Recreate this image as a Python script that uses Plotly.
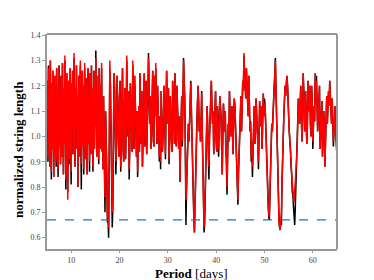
import plotly.graph_objects as go

# ---------------- data ----------------
periods_a = [5.0,5.1,5.2,5.3,5.4,5.5,5.6,5.7,5.8,5.9,
             6.0,6.1,6.2,6.3,6.4,6.5,6.6,6.7,6.8,6.9,
             7.0,7.1,7.2,7.3,7.4,7.5,7.6,7.7,7.8,7.9,
             8.0,8.1,8.2,8.3,8.4,8.5,8.6,8.7,8.8,8.9,
             9.0,9.1,9.2,9.3,9.4,9.5,9.6,9.7,9.8,9.9,
             10.0,10.1,10.2,10.3,10.4,10.5,10.6,10.7,10.8,10.9,
             11.0,11.1,11.2,11.3,11.4,11.5,11.6,11.7,11.8,11.9,
             12.0,12.1,12.2,12.3,12.4,12.5,12.6,12.7,12.8,12.9,
             13.0,13.1,13.2,13.3,13.4,13.5,13.6,13.7,13.8,13.9,
             14.0,14.1,14.2,14.3,14.4,14.5,14.6,14.7,14.8,14.9,
             15.0,15.1,15.2,15.3,15.4,15.5,15.6,15.7,15.8,15.9,
             16.0,16.1,16.2,16.3,16.4,16.5,16.6,16.7,16.8,16.9,
             17.0]

periods_b_mid = [17.125,17.375,17.625,17.875,18.125,18.375,18.625,18.875,19.125,19.375,
                 19.625,19.875,20.125,20.375,20.625,20.875,21.125,21.375,21.625,21.875,
                 22.125,22.375,22.625,22.875,23.125,23.375,23.625,23.875,24.125,24.375,
                 24.625,24.875,25.125,25.375,25.625,25.875,26.125,26.375,26.625,26.875,
                 27.125,27.375,27.625,27.875,28.125,28.375,28.625,28.875,29.125,29.375,
                 29.625,29.875,30.125,30.375,30.625,30.875,31.125,31.375,31.625,31.875,
                 32.125,32.375,32.625,32.875,33.125,33.375,33.625,33.875,34.125,34.375,
                 34.625,34.875,35.125,35.375,35.625,35.875,36.125,36.375,36.625,36.875,
                 37.125,37.375,37.625,37.875,38.125,38.375,38.625,38.875,39.125,39.375,
                 39.625,39.875,40.125,40.375,40.625,40.875,41.125,41.375,41.625,41.875,
                 42.125,42.375,42.625,42.875,43.125,43.375,43.625,43.875,44.125,44.375,
                 44.625,44.875,45.125,45.375,45.625,45.875,46.125,46.375,46.625,46.875,
                 47.125,47.375,47.625,47.875,48.125,48.375,48.625,48.875,49.125,49.375,
                 49.625,49.875,50.125,50.375,50.625,50.875,51.125,51.375,51.625,51.875,
                 52.125,52.375,52.625,52.875,53.125,53.375,53.625,53.875,54.125,54.375,
                 54.625,54.875,55.125,55.375,55.625,55.875,56.125,56.375,56.625,56.875,
                 57.125,57.375,57.625,57.875,58.125,58.375,58.625,58.875,59.125,59.375,
                 59.625,59.875,60.125,60.375,60.625,60.875,61.125,61.375,61.625,61.875,
                 62.125,62.375,62.625,62.875,63.125,63.375,63.625,63.875,64.125,64.375,
                 64.625,64.875]

periods_b = [17.25,17.5,17.75,18.0,18.25,18.5,18.75,19.0,19.25,19.5,
             19.75,20.0,20.25,20.5,20.75,21.0,21.25,21.5,21.75,22.0,
             22.25,22.5,22.75,23.0,23.25,23.5,23.75,24.0,24.25,24.5,
             24.75,25.0,25.25,25.5,25.75,26.0,26.25,26.5,26.75,27.0,
             27.25,27.5,27.75,28.0,28.25,28.5,28.75,29.0,29.25,29.5,
             29.75,30.0,30.25,30.5,30.75,31.0,31.25,31.5,31.75,32.0,
             32.25,32.5,32.75,33.0,33.25,33.5,33.75,34.0,34.25,34.5,
             34.75,35.0,35.25,35.5,35.75,36.0,36.25,36.5,36.75,37.0,
             37.25,37.5,37.75,38.0,38.25,38.5,38.75,39.0,39.25,39.5,
             39.75,40.0,40.25,40.5,40.75,41.0,41.25,41.5,41.75,42.0,
             42.25,42.5,42.75,43.0,43.25,43.5,43.75,44.0,44.25,44.5,
             44.75,45.0,45.25,45.5,45.75,46.0,46.25,46.5,46.75,47.0,
             47.25,47.5,47.75,48.0,48.25,48.5,48.75,49.0,49.25,49.5,
             49.75,50.0,50.25,50.5,50.75,51.0,51.25,51.5,51.75,52.0,
             52.25,52.5,52.75,53.0,53.25,53.5,53.75,54.0,54.25,54.5,
             54.75,55.0,55.25,55.5,55.75,56.0,56.25,56.5,56.75,57.0,
             57.25,57.5,57.75,58.0,58.25,58.5,58.75,59.0,59.25,59.5,
             59.75,60.0,60.25,60.5,60.75,61.0,61.25,61.5,61.75,62.0,
             62.25,62.5,62.75,63.0,63.25,63.5,63.75,64.0,64.25,64.5,
             64.75,65.0]

black_a = [1.05,1.22,0.90,1.28,0.98,1.18,0.88,1.30,1.02,0.83,
           1.21,0.95,1.26,1.08,0.84,1.15,1.24,0.93,1.12,0.88,
           1.27,1.00,1.20,0.84,1.10,1.28,0.96,1.16,0.89,1.24,
           1.04,0.92,1.29,1.06,0.85,1.19,0.97,1.30,1.01,0.79,
           1.14,1.25,0.94,0.78,1.08,1.22,0.89,1.17,1.27,0.99,
           0.81,1.21,1.03,1.26,0.93,1.12,1.31,0.98,0.88,1.19,
           1.07,1.28,0.95,1.15,0.80,1.10,1.24,0.92,1.18,1.28,
           1.00,0.79,1.13,1.26,0.96,1.20,0.85,1.09,1.27,1.02,
           0.91,1.23,1.05,0.85,1.17,1.27,0.97,1.11,0.86,1.25,
           1.06,0.93,1.28,1.00,1.19,0.86,1.14,1.26,0.95,1.22,
           1.04,1.34,1.12,0.92,1.18,1.00,1.24,0.89,1.27,1.05,
           0.95,1.20,1.08,1.27,0.94,1.13,0.87,1.16,0.98,0.80,
           0.70]

red_a = [1.05,1.22,0.92,1.27,0.98,1.18,0.88,1.30,1.02,0.86,
         1.21,0.95,1.26,1.08,0.84,1.15,1.24,0.93,1.12,0.90,
         1.27,1.00,1.20,0.87,1.10,1.28,0.96,1.16,0.89,1.24,
         1.04,0.92,1.29,1.06,0.85,1.19,0.97,1.32,1.01,0.83,
         1.14,1.25,0.94,0.75,1.08,1.22,0.91,1.17,1.27,0.99,
         0.86,1.21,1.03,1.26,0.93,1.12,1.33,0.98,0.88,1.19,
         1.07,1.28,0.95,1.15,0.80,1.10,1.24,0.92,1.18,1.30,
         1.00,0.89,1.13,1.26,0.96,1.20,0.87,1.09,1.29,1.02,
         0.91,1.23,1.05,0.85,1.17,1.27,0.97,1.11,0.90,1.25,
         1.06,0.93,1.28,1.00,1.19,0.88,1.14,1.26,0.95,1.22,
         1.04,1.31,1.12,0.92,1.18,1.00,1.24,0.91,1.27,1.05,
         0.95,1.20,1.08,1.29,0.94,1.13,0.87,1.16,0.98,0.84,
         0.76]

black_b_mid = [1.10,0.85,0.68,0.95,1.20,0.82,0.72,1.25,1.05,0.97,
               1.12,0.92,1.22,0.99,1.27,0.90,1.19,1.02,1.14,1.18,
               0.96,1.12,0.94,1.15,1.24,1.06,1.10,0.98,0.94,1.10,
               1.18,1.00,1.25,1.08,0.93,1.15,1.20,1.16,1.02,1.26,
               0.96,1.08,1.14,1.20,1.04,1.08,1.18,0.94,1.12,1.07,
               1.10,1.14,1.19,0.98,1.06,0.94,1.15,0.97,1.10,1.20,
               1.03,1.08,0.95,1.16,1.08,1.22,0.95,0.80,1.00,0.98,
               1.15,1.10,0.88,0.68,0.70,0.95,1.12,1.14,1.08,1.05,
               1.02,0.72,0.66,0.90,1.12,0.95,1.00,1.16,1.12,1.10,
               1.02,1.18,0.94,1.06,1.00,1.12,0.98,1.00,1.08,1.10,
               0.96,0.94,0.98,1.10,1.06,1.02,1.08,1.12,1.00,0.84,
               0.86,1.05,1.16,1.10,1.18,1.25,1.15,1.20,1.08,1.15,
               1.06,0.98,0.94,1.12,1.02,1.10,0.98,1.02,1.04,1.12,
               1.03,1.08,1.12,0.96,0.80,0.68,0.78,0.96,1.02,1.14,
               1.24,1.18,0.92,0.72,0.64,0.67,0.82,1.02,1.14,1.16,
               1.24,1.12,1.02,0.95,0.85,0.77,0.68,0.72,0.90,1.04,
               1.10,1.12,1.08,1.05,1.18,1.02,1.10,1.04,1.10,1.20,
               1.00,1.14,1.04,1.06,1.15,1.12,1.08,1.20,1.00,1.14,
               1.02,1.05,0.98,1.16,1.10,1.12,1.16,1.05,1.08,1.02,
               1.12,0.98]

red_b_mid = [1.10,0.85,0.72,0.95,1.20,0.82,0.78,1.25,1.05,0.97,
             1.12,0.92,1.22,0.99,1.27,0.90,1.19,1.02,1.14,1.18,
             0.96,1.12,0.94,1.15,1.24,1.06,1.10,0.98,0.94,1.10,
             1.18,1.00,1.25,1.08,0.93,1.15,1.20,1.16,1.02,1.26,
             0.96,1.08,1.14,1.20,1.04,1.08,1.18,0.94,1.12,1.07,
             1.10,1.14,1.19,0.98,1.06,0.94,1.15,0.97,1.10,1.20,
             1.03,1.08,0.95,1.16,1.08,1.22,0.95,0.80,1.00,0.98,
             1.15,1.10,0.88,0.70,0.72,0.95,1.12,1.14,1.08,1.05,
             1.02,0.76,0.70,0.90,1.12,0.95,1.00,1.16,1.12,1.10,
             1.02,1.18,0.94,1.06,1.00,1.12,0.98,1.00,1.08,1.10,
             0.96,0.94,0.98,1.10,1.06,1.02,1.08,1.12,1.00,0.84,
             0.86,1.05,1.16,1.10,1.18,1.25,1.15,1.20,1.08,1.15,
             1.06,0.98,0.94,1.12,1.02,1.10,0.98,1.02,1.04,1.12,
             1.03,1.08,1.12,0.96,0.80,0.70,0.78,0.96,1.02,1.14,
             1.24,1.18,0.92,0.74,0.64,0.67,0.82,1.02,1.14,1.16,
             1.24,1.12,1.02,0.95,0.85,0.77,0.74,0.80,0.90,1.04,
             1.10,1.12,1.08,1.05,1.18,1.02,1.10,1.04,1.10,1.20,
             1.00,1.14,1.04,1.06,1.15,1.12,1.08,1.20,1.00,1.14,
             1.02,1.05,0.98,1.16,1.10,1.12,1.16,1.05,1.08,1.02,
             1.12,0.98]

black_b = [1.02,0.66,0.60,1.26,0.98,0.64,0.93,1.18,0.85,1.24,
           0.97,1.15,0.86,1.20,0.95,1.10,0.91,1.30,1.00,0.83,
           1.21,1.04,1.28,0.95,1.17,0.92,0.84,1.12,1.25,0.97,
           0.88,1.16,0.96,1.22,1.02,1.33,1.05,0.95,1.18,0.98,
           1.24,1.27,0.97,1.12,0.90,0.87,1.10,1.00,1.20,0.91,
           1.26,1.05,0.89,1.16,0.99,1.22,1.06,1.25,0.96,1.13,
           0.95,0.82,1.10,0.96,1.31,1.15,0.65,0.90,1.05,1.10,
           1.22,0.95,0.78,0.62,0.85,1.05,1.20,1.02,0.98,1.18,
           0.88,0.62,0.80,0.98,1.04,0.83,1.10,1.22,1.05,0.93,
           1.15,0.98,1.12,0.92,1.16,1.08,0.85,1.13,1.02,0.92,
           0.77,1.05,1.18,1.00,1.12,0.93,1.15,1.05,0.90,0.73,
           0.95,1.12,1.02,1.22,1.32,1.20,1.27,1.12,1.24,1.02,
           0.90,0.84,1.08,0.97,1.15,1.05,0.87,1.14,1.08,0.95,
           1.17,1.15,1.05,0.85,0.70,0.67,0.90,1.05,1.12,1.20,
           1.31,1.05,0.82,0.68,0.63,0.65,0.95,1.08,1.20,1.23,
           1.21,1.05,0.98,0.88,0.78,0.72,0.65,0.82,0.95,1.15,
           1.05,1.20,0.98,1.25,1.10,1.18,0.97,1.22,1.18,1.05,
           1.20,0.95,1.12,1.25,1.24,1.02,1.15,0.95,1.08,0.92,
           1.10,0.88,1.12,1.05,1.18,1.22,1.10,1.15,0.96,1.10,
           1.02,0.92]

red_b = [1.02,0.68,0.64,1.30,0.98,0.70,0.95,1.18,0.90,1.24,
         0.97,1.15,0.88,1.20,0.95,1.10,0.91,1.32,1.00,0.87,
         1.21,1.04,1.30,0.95,1.17,0.92,0.86,1.12,1.25,0.97,
         0.88,1.16,0.96,1.22,1.02,1.31,1.05,0.95,1.18,1.00,
         1.24,1.29,0.97,1.12,0.92,0.90,1.10,1.00,1.20,0.93,
         1.26,1.05,0.91,1.16,0.99,1.22,1.06,1.25,0.96,1.13,
         0.95,0.82,1.10,0.98,1.30,1.15,0.75,0.92,1.05,1.10,
         1.21,0.95,0.80,0.62,0.85,1.05,1.20,1.02,0.98,1.17,
         0.90,0.64,0.80,0.98,1.04,0.88,1.10,1.22,1.05,0.93,
         1.15,1.00,1.12,0.95,1.16,1.08,0.85,1.13,1.02,0.92,
         0.80,1.05,1.18,1.00,1.12,0.93,1.15,1.05,0.90,0.75,
         0.95,1.12,1.02,1.22,1.33,1.20,1.27,1.12,1.24,1.02,
         0.92,0.88,1.08,0.97,1.15,1.05,0.90,1.14,1.08,0.95,
         1.17,1.13,1.05,0.85,0.72,0.68,0.90,1.05,1.10,1.20,
         1.30,1.05,0.82,0.66,0.63,0.70,0.95,1.08,1.20,1.22,
         1.20,1.05,0.98,0.90,0.80,0.76,0.78,0.85,0.95,1.15,
         1.05,1.20,0.98,1.25,1.10,1.18,0.97,1.22,1.15,1.05,
         1.20,0.98,1.12,1.25,1.22,1.02,1.15,0.95,1.08,0.92,
         1.10,0.88,1.12,1.05,1.18,1.22,1.10,1.15,0.98,1.08,
         1.02,0.92]

threshold = 0.67
x_ticks = [10, 20, 30, 40, 50, 60]
y_ticks = [0.6, 0.7, 0.8, 0.9, 1.0, 1.1, 1.2, 1.3, 1.4]
y_ticktext = ["0.6", "0.7", "0.8", "0.9", "1.0", "1.1", "1.2", "1.3", "1.4"]

# ---------------- assemble (interleave the sampled points) ----------------
periods = list(periods_a)
black = list(black_a)
red = list(red_a)
for pm, bm, rm, p, b, r in zip(periods_b_mid, black_b_mid, red_b_mid,
                               periods_b, black_b, red_b):
    periods += [pm, p]
    black += [bm, b]
    red += [rm, r]
assert len(periods) == len(black) == len(red), (len(periods), len(black), len(red))

SERIF = "Liberation Serif, DejaVu Serif, serif"

fig = go.Figure()
fig.add_trace(go.Scatter(x=periods, y=black, mode="lines",
                         line=dict(color="black", width=1.5), hoverinfo="skip"))
fig.add_trace(go.Scatter(x=periods, y=red, mode="lines",
                         line=dict(color="#ff0000", width=1.5), hoverinfo="skip"))

fig.add_shape(type="line", xref="paper", x0=0, x1=1, yref="y", y0=threshold, y1=threshold,
              line=dict(color="#1f77b4", width=1.3, dash="dash"))
fig.add_shape(type="line", xref="paper", yref="paper", x0=0, x1=1, y0=1, y1=1,
              line=dict(color="#333333", width=1.2))
fig.add_shape(type="line", xref="paper", yref="paper", x0=1, x1=1, y0=0, y1=1,
              line=dict(color="#999999", width=2))

fig.add_annotation(text="<b>normalized string length</b>", xref="paper", yref="paper",
                   x=-0.1, y=0.46, textangle=-90, showarrow=False,
                   xanchor="center", yanchor="middle",
                   font=dict(family=SERIF, size=13, color="black"))
fig.add_annotation(text="<b>Period</b> [days]", xref="paper", yref="paper",
                   x=0.498, y=-0.112, showarrow=False,
                   xanchor="center", yanchor="middle",
                   font=dict(family=SERIF, size=13, color="black"))

fig.update_layout(
    width=374, height=280,
    margin=dict(l=47, r=37, t=34, b=31),
    paper_bgcolor="white", plot_bgcolor="white",
    showlegend=False,
    font=dict(family=SERIF, size=8, color="#444444"),
)
fig.update_xaxes(range=[5, 65], tickvals=x_ticks, ticks="outside", ticklen=2,
                 tickcolor="#999999", showgrid=False, zeroline=False,
                 showline=True, linecolor="#999999", linewidth=2,
                 tickfont=dict(family=SERIF, size=8, color="#444444"))
fig.update_yaxes(range=[0.555, 1.405], tickvals=y_ticks, ticktext=y_ticktext,
                 ticks="outside", ticklen=3, tickcolor="#999999",
                 showgrid=False, zeroline=False,
                 showline=True, linecolor="#999999", linewidth=2,
                 tickfont=dict(family=SERIF, size=8, color="#444444"))

fig.write_html("out.html", config={"displayModeBar": False},
               post_script="document.body.style.margin='0px';")
